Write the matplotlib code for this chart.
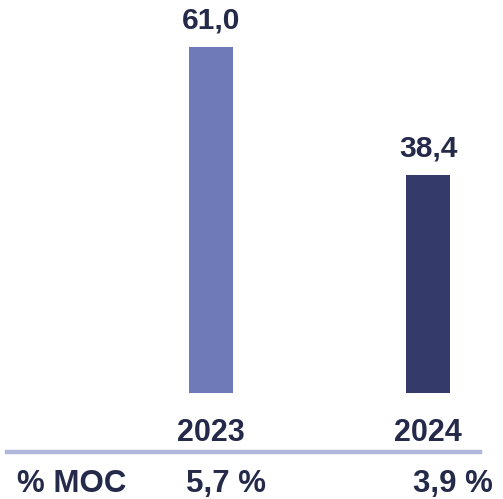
import matplotlib.pyplot as plt
from matplotlib.lines import Line2D

# Chart data
years = ['2023', '2024']
values = [61.0, 38.4]
moc = ['5,7 %', '3,9 %']
bar_colors = ['#6f7bb8', '#343a6a']
text_color = '#252a4a'

plt.rcParams['font.family'] = ['Liberation Sans', 'DejaVu Sans']

fig = plt.figure(figsize=(5.03, 4.99), dpi=100)
# axes bottom sits at the bar baseline (393 px from top)
ax = fig.add_axes([0, (499 - 393) / 499, 1, 393 / 499])
x = [0, 1]
ax.bar(x, values, width=44 / 217, color=bar_colors)
ax.set_xlim(-211 / 217, (503 - 211) / 217)
ax.set_ylim(0, 393 / 5.672)
ax.axis('off')

# value labels above bars
for xi, v in zip(x, values):
    ax.annotate(f'{v:.1f}'.replace('.', ','), (xi, v), xytext=(0, 9),
                textcoords='offset points', ha='center', va='bottom',
                fontsize=21.5, fontweight='bold', color=text_color)

# year labels below bars
for xi, yr in zip(x, years):
    ax.annotate(yr, (xi, 0), xytext=(0, -29), textcoords='offset points',
                ha='center', va='center', fontsize=22, fontweight='bold',
                color=text_color, annotation_clip=False)

# separator line
fig.add_artist(Line2D([7 / 503, 480 / 503], [1 - 452 / 499, 1 - 452 / 499],
                      color='#b0b7da', linewidth=3.2))

# bottom row: % MOC
fig.text(17 / 503, 1 - 484 / 499, '% MOC', ha='left', va='center',
         fontsize=22.5, fontweight='bold', color=text_color)
for px, m in zip([226, 453], moc):
    fig.text(px / 503, 1 - 484 / 499, m, ha='center', va='center',
             fontsize=22.5, fontweight='bold', color=text_color)

fig.savefig('out.png', dpi=100)
